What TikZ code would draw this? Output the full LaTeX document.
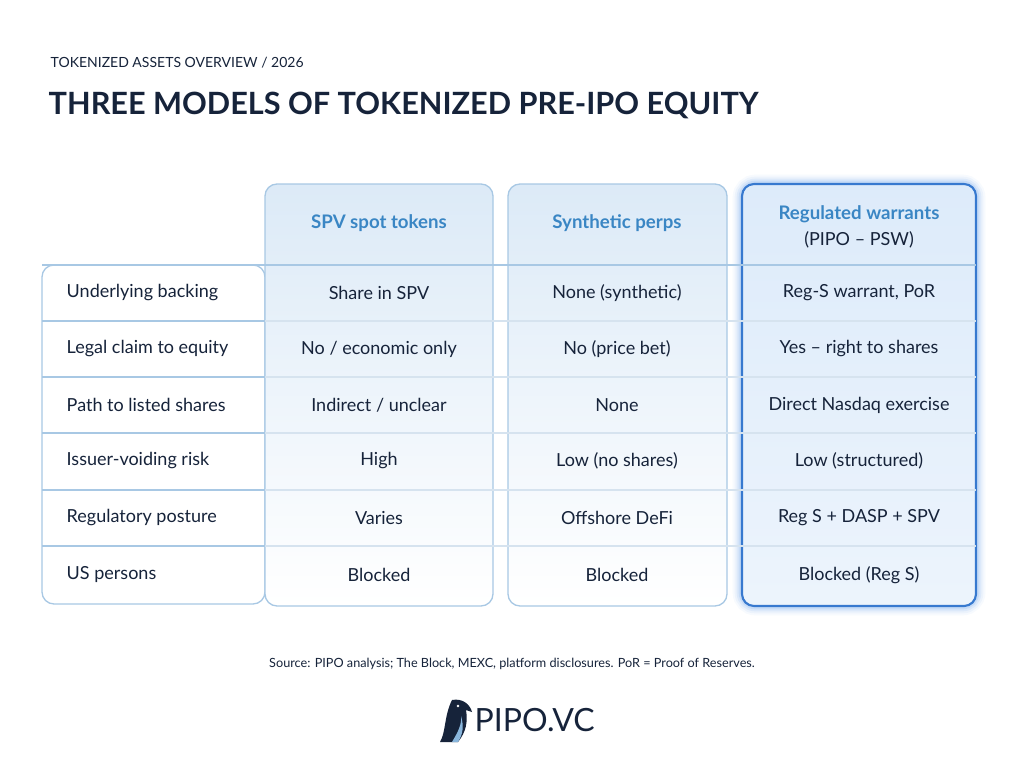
\documentclass[tikz,border=0pt]{standalone}
\usepackage{fontspec}
\setmainfont{Lato}
\usetikzlibrary{shadings}
\definecolor{navy}{HTML}{16233A}
\definecolor{hdblue}{HTML}{3A86C4}
\definecolor{edge}{HTML}{A8C8E4}
\definecolor{glow}{HTML}{3D86E6}
\definecolor{rule}{HTML}{D6E3EF}
\definecolor{tint}{HTML}{DCEAF7}
\definecolor{tintc}{HTML}{DDEBFA}
\tikzstyle{cell} = [font=\fontsize{13.5}{15}\selectfont,text=navy]
\tikzstyle{lbl} = [font=\fontsize{13.5}{15}\selectfont,text=navy,anchor=west]
\tikzstyle{head} = [font=\fontsize{14}{16}\selectfont\bfseries,text=hdblue,align=center]
\tikzstyle{col} = [draw=edge,line width=1pt,rounded corners=9pt]

\begin{document}
\begin{tikzpicture}[x=0.75pt,y=-0.75pt]
  \useasboundingbox[fill=white] (0,0) rectangle (1024,765);
  % titles
  \node[anchor=west,font=\fontsize{10.5}{12}\selectfont,text=navy] (kicker) at (46,63) {TOKENIZED ASSETS OVERVIEW / 2026};
  \node[anchor=west,font=\fontsize{23}{26}\selectfont\bfseries,text=navy] (title) at (44,105) {THREE MODELS OF TOKENIZED PRE-IPO EQUITY};

  % row labels box
  \draw[col,fill=white] (42,265) rectangle (265,604);
  % column 1 and 2
  \shade[top color=tint,bottom color=white,rounded corners=9pt] (265,184) rectangle (493,606);
  \draw[col] (265,184) rectangle (493,606);
  \shade[top color=tint,bottom color=white,rounded corners=9pt] (508,184) rectangle (727,606);
  \draw[col] (508,184) rectangle (727,606);
  % column 3 with glow
  \foreach \g/\o in {14/0.04,11/0.06,8/0.09,5/0.13}
    \draw[glow,line width=\g pt,opacity=\o,rounded corners=10pt] (742,184) rectangle (976,606);
  \shade[top color=tintc,bottom color=tintc!55,rounded corners=9pt] (742,184) rectangle (976,606);
  \draw[glow!90!black,line width=1.6pt,rounded corners=9pt] (742,184) rectangle (976,606);

  % rules
  \draw[edge,line width=1pt] (42,265) -- (976,265);
  \foreach \y in {321,377,433,490,546}
    \draw[rule,line width=0.8pt] (42,\y) -- (976,\y);
  \foreach \y in {321,377,433,490,546}
    \draw[edge,line width=0.8pt] (42,\y) -- (265,\y);

  % headers
  \node[head] (spv) at (379,223) {SPV spot tokens};
  \node[head] (perp) at (617,223) {Synthetic perps};
  \node[head] (warr) at (859,214) {Regulated warrants};
  \node[font=\fontsize{13.5}{15}\selectfont,text=navy] (psw) at (859,240) {(PIPO – PSW)};

  % rows
  \node[lbl] (l1) at (62,293) {Underlying backing};
  \node[lbl] (l2) at (62,349) {Legal claim to equity};
  \node[lbl] (l3) at (62,405) {Path to listed shares};
  \node[lbl] (l4) at (62,461) {Issuer-voiding risk};
  \node[lbl] (l5) at (62,518) {Regulatory posture};
  \node[lbl] (l6) at (62,575) {US persons};

  \node[cell] (a1) at (379,293) {Share in SPV};
  \node[cell] (a2) at (379,349) {No / economic only};
  \node[cell] (a3) at (379,405) {Indirect / unclear};
  \node[cell] (a4) at (379,461) {High};
  \node[cell] (a5) at (379,518) {Varies};
  \node[cell] (a6) at (379,575) {Blocked};

  \node[cell] (b1) at (617,293) {None (synthetic)};
  \node[cell] (b2) at (617,349) {No (price bet)};
  \node[cell] (b3) at (617,405) {None};
  \node[cell] (b4) at (617,461) {Low (no shares)};
  \node[cell] (b5) at (617,518) {Offshore DeFi};
  \node[cell] (b6) at (617,575) {Blocked};

  \node[cell] (c1) at (859,293) {Reg-S warrant, PoR};
  \node[cell] (c2) at (859,349) {Yes – right to shares};
  \node[cell] (c3) at (859,405) {Direct Nasdaq exercise};
  \node[cell] (c4) at (859,461) {Low (structured)};
  \node[cell] (c5) at (859,518) {Reg S + DASP + SPV};
  \node[cell] (c6) at (859,575) {Blocked (Reg S)};

  % footer
  \node[font=\fontsize{9.5}{11}\selectfont,text=navy] (src) at (512,664) {Source: PIPO analysis; The Block, MEXC, platform disclosures. PoR = Proof of Reserves.};
  \fill[navy] (452,700) .. controls (462,698) and (470,704) .. (472,712) -- (466,710)
    .. controls (468,722) and (466,732) .. (458,742) -- (440,742)
    .. controls (446,732) and (444,716) .. (452,700) -- cycle;
  \fill[hdblue!60] (452,742) .. controls (458,732) and (462,724) .. (461,716)
    .. controls (464,726) and (463,734) .. (458,742) -- cycle;
  \fill[white] (458,706) circle (1.4);
  \node[anchor=west,font=\fontsize{24}{26}\selectfont,text=navy] (logo) at (470,720) {PIPO.VC};
\end{tikzpicture}
\end{document}
